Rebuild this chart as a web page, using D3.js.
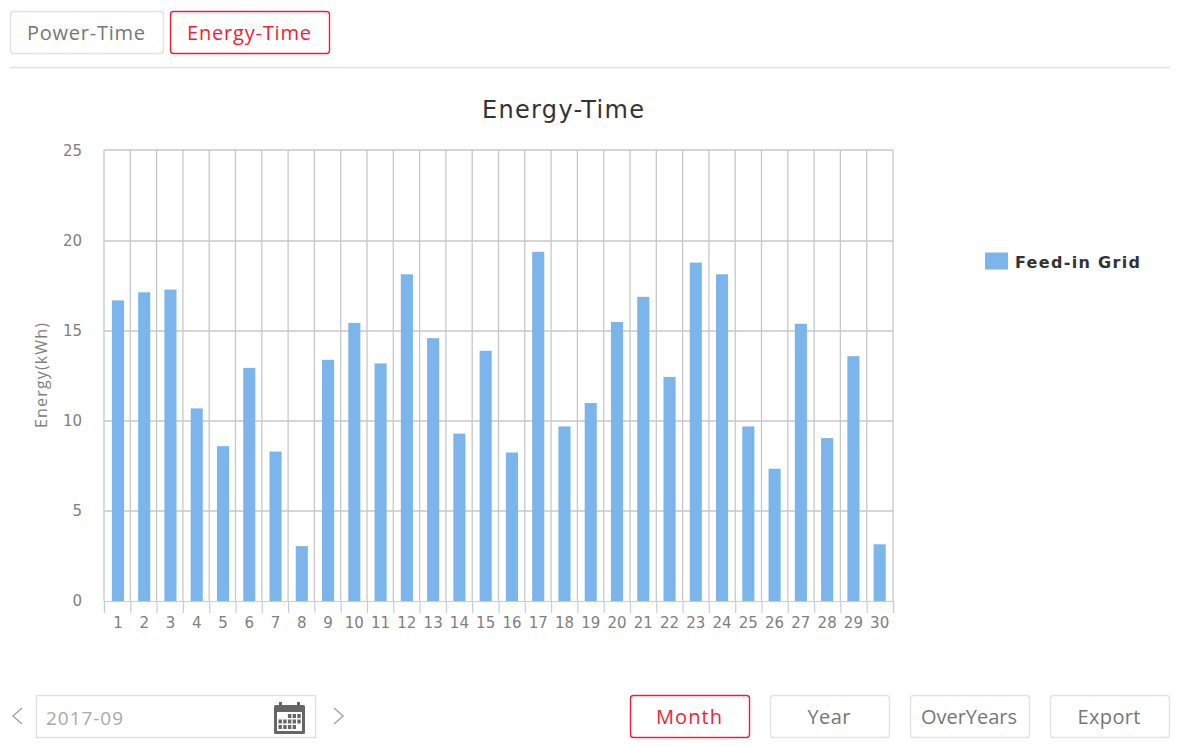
<!DOCTYPE html>
<html>
<head>
<meta charset="utf-8">
<script src="https://cdn.jsdelivr.net/npm/d3@7"></script>
<style>
  html, body { margin: 0; padding: 0; background: #fff; }
  svg { display: block; }
  text { font-family: "Open Sans", "Noto Sans", sans-serif; }
</style>
</head>
<body>
<svg id="chart" width="1179" height="745"></svg>
<script>
const days = d3.range(1, 31).map(String)
const feedIn = [16.7, 17.15, 17.3, 10.7, 8.6, 12.95, 8.3, 3.05, 13.4, 15.45,
  13.2, 18.15, 14.6, 9.3, 13.9, 8.25, 19.4, 9.7, 11, 15.5,
  16.9, 12.45, 18.8, 18.15, 9.7, 7.35, 15.4, 9.05, 13.6, 3.15]
const yTicks = [0, 5, 10, 15, 20, 25]
const tabLabels = ['Power-Time', 'Energy-Time']
const rangeLabels = ['Month', 'Year', 'OverYears', 'Export']

const RED = '#f01f35'
const svg = d3.select('#chart')
const plot = { left: 104, right: 893, frameTop: 150, top: 151, bottom: 601 }

// x, width, text width of each button, in the order of the labels
const tabBoxes = [[10, 154, 118], [170, 160, 124]]
const rangeBoxes = [[630, 120, 66], [770, 120, 43], [910, 120, 96], [1050, 120, 63]]

function drawButton (label, box, y, h, active) {
  const [bx, w, tw] = box
  const g = svg.append('g')
  g.append('rect')
    .attr('x', bx + 0.5).attr('y', y + 0.5)
    .attr('width', w - 1).attr('height', h - 1)
    .attr('rx', 3)
    .attr('fill', '#fff')
    .attr('stroke', active ? RED : '#e2e2e2')
    .attr('stroke-width', 1.4)
  g.append('text')
    .attr('x', bx + w / 2 - 1).attr('y', y + h / 2 + 7)
    .attr('text-anchor', 'middle')
    .attr('font-size', 20)
    .attr('textLength', tw)
    .attr('fill', active ? RED : '#777')
    .text(label)
}

tabLabels.forEach((t, i) => drawButton(t, tabBoxes[i], 11, 43, i === 1))
svg.append('line')
  .attr('x1', 10).attr('x2', 1170).attr('y1', 67.5).attr('y2', 67.5)
  .attr('stroke', '#e2e2e2').attr('stroke-width', 1.4)

// scales
const x = d3.scaleBand().domain(days)
  .range([plot.left + 0.8, plot.right - 0.2])
  .paddingInner(0.54).paddingOuter(0.27)
const xEdge = d3.scaleLinear().domain([0, 30]).range([plot.left, plot.right])
const y = d3.scaleLinear().domain([0, 25]).range([plot.bottom, plot.top])
const edges = d3.range(0, 31)

// grid
const grid = svg.append('g').attr('stroke', '#c8c8c8').attr('stroke-width', 1.3)
grid.selectAll('line.v').data(edges).join('line')
  .attr('class', 'v')
  .attr('x1', d => xEdge(d)).attr('x2', d => xEdge(d))
  .attr('y1', plot.frameTop).attr('y2', plot.bottom)
grid.selectAll('line.h').data(yTicks.filter(d => d > 0 && d < 25)).join('line')
  .attr('class', 'h')
  .attr('x1', plot.left).attr('x2', plot.right)
  .attr('y1', d => y(d)).attr('y2', d => y(d))
grid.append('line')
  .attr('x1', plot.left).attr('x2', plot.right)
  .attr('y1', plot.frameTop).attr('y2', plot.frameTop)

// bars
svg.append('g').attr('fill', '#7cb5ec')
  .selectAll('rect').data(feedIn).join('rect')
  .attr('x', (d, i) => x(days[i]))
  .attr('width', x.bandwidth())
  .attr('y', d => y(d))
  .attr('height', d => y(0) - y(d))

// axes
const xTickAxis = svg.append('g')
  .attr('transform', `translate(0,${plot.bottom})`)
  .call(d3.axisBottom(xEdge).tickValues(edges).tickSize(12).tickFormat(''))
xTickAxis.selectAll('line').attr('stroke', '#c0d0e0').attr('stroke-width', 1.2)
xTickAxis.select('.domain').attr('stroke', '#c0d0e0').attr('stroke-width', 1.2)

const xLabels = svg.append('g')
  .attr('transform', `translate(0,${plot.bottom})`)
  .call(d3.axisBottom(x).tickSize(0).tickPadding(16))
xLabels.select('.domain').remove()
xLabels.selectAll('text')
  .attr('font-size', 15).attr('fill', '#808080')
  .style('font-family', '"DejaVu Sans", sans-serif')

const yAxis = svg.append('g')
  .attr('transform', `translate(${plot.left},0)`)
  .call(d3.axisLeft(y).tickValues(yTicks).tickSize(0).tickPadding(22))
yAxis.select('.domain').remove()
yAxis.selectAll('text')
  .attr('font-size', 15).attr('fill', '#808080')
  .style('font-family', '"DejaVu Sans", sans-serif')

svg.append('text')
  .attr('transform', 'translate(47,375.5) rotate(-90)')
  .attr('text-anchor', 'middle')
  .attr('font-size', 16).attr('fill', '#808080')
  .attr('textLength', 105)
  .text('Energy(kWh)')

svg.append('text')
  .attr('x', 563).attr('y', 118)
  .attr('text-anchor', 'middle')
  .attr('font-size', 24).attr('fill', '#333')
  .attr('textLength', 162)
  .style('font-family', '"DejaVu Sans", sans-serif')
  .text('Energy-Time')

// legend
svg.append('rect')
  .attr('x', 985).attr('y', 252.5).attr('width', 23).attr('height', 17)
  .attr('fill', '#7cb5ec')
svg.append('text')
  .attr('x', 1015).attr('y', 268)
  .attr('font-size', 16).attr('font-weight', 'bold').attr('fill', '#333')
  .attr('textLength', 125)
  .style('font-family', '"DejaVu Sans", sans-serif')
  .text('Feed-in Grid')

// date picker
svg.append('rect')
  .attr('x', 36.5).attr('y', 695.5).attr('width', 279).attr('height', 42)
  .attr('fill', '#fff').attr('stroke', '#e2e2e2').attr('stroke-width', 1.4)
svg.append('text')
  .attr('x', 46).attr('y', 725)
  .attr('font-size', 19).attr('fill', '#aaa')
  .attr('textLength', 77)
  .text('2017-09')

const chevron = d3.line()
svg.append('path')
  .attr('d', chevron([[22, 708], [13, 716], [22, 724]]))
  .attr('fill', 'none').attr('stroke', '#aaa').attr('stroke-width', 1.6)
svg.append('path')
  .attr('d', chevron([[334, 708], [343, 716], [334, 724]]))
  .attr('fill', 'none').attr('stroke', '#aaa').attr('stroke-width', 1.6)

// calendar icon
const cal = svg.append('g').attr('transform', 'translate(274,702)')
cal.append('rect').attr('y', 3).attr('width', 31).attr('height', 29).attr('rx', 1.5).attr('fill', '#666')
cal.append('rect').attr('x', 3).attr('y', 10).attr('width', 25).attr('height', 19).attr('fill', '#fff')
cal.selectAll('rect.peg').data([5, 23]).join('rect')
  .attr('class', 'peg')
  .attr('x', d => d).attr('y', 0).attr('width', 3).attr('height', 7)
  .attr('fill', '#666')
const cells = d3.cross([0, 1, 2, 3, 4], [0, 1, 2])
  .filter(([c, r]) => !(r === 0 && c < 2) && !(r === 2 && c > 3))
cal.selectAll('rect.cell').data(cells).join('rect')
  .attr('class', 'cell')
  .attr('x', d => 4.5 + d[0] * 4.7).attr('y', d => 12 + d[1] * 5.5)
  .attr('width', 3.4).attr('height', 4)
  .attr('fill', '#666')

rangeLabels.forEach((r, i) => drawButton(r, rangeBoxes[i], 695, 43, i === 0))
</script>
</body>
</html>
